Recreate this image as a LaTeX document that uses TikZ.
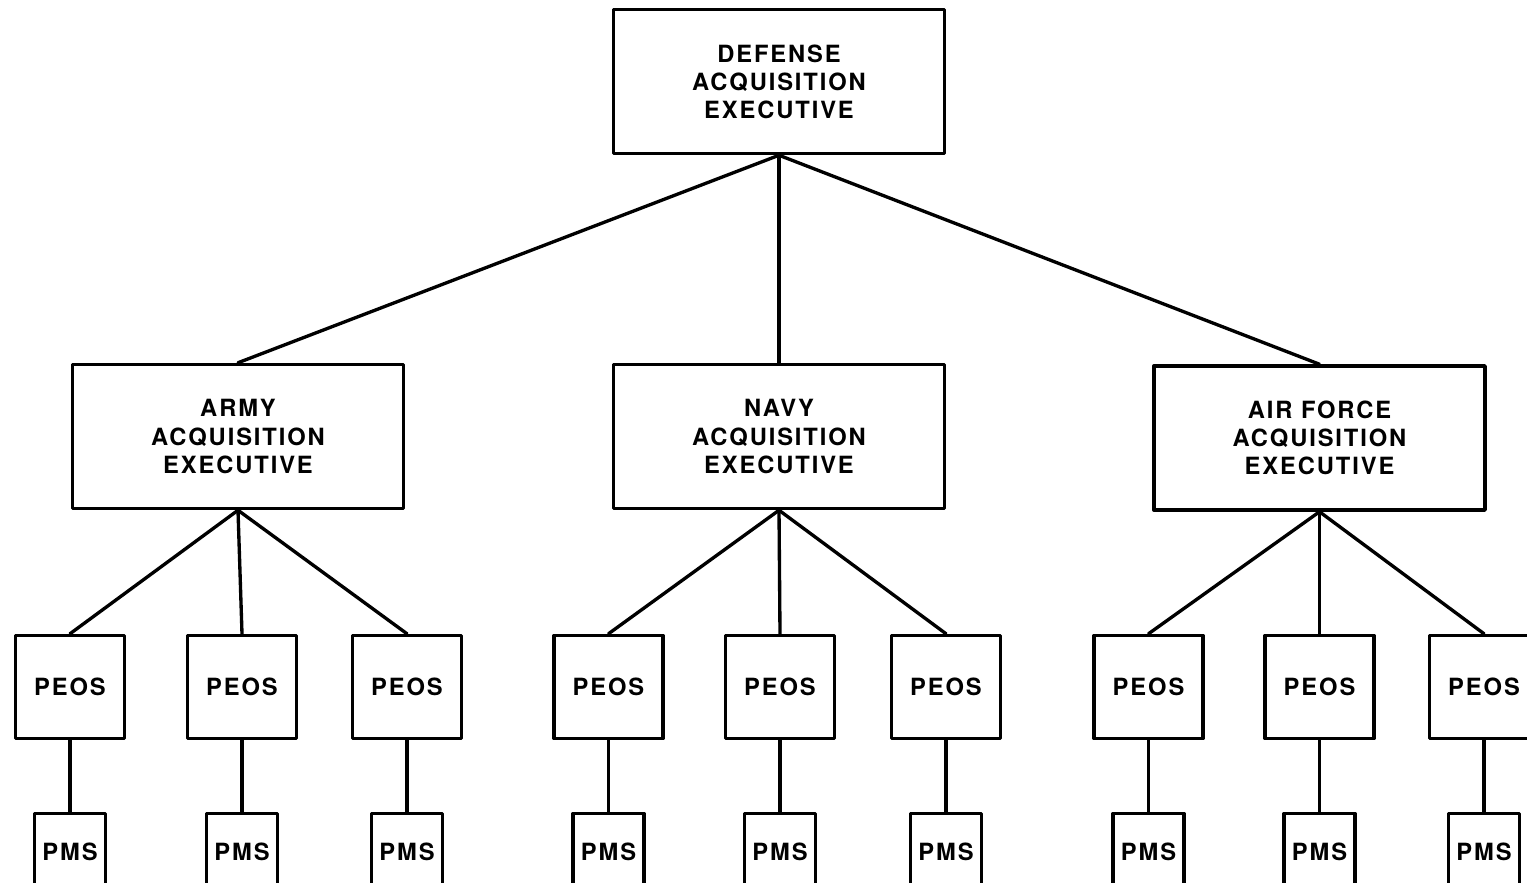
\documentclass[tikz,border=0pt]{standalone}
\usepackage{fontspec}
\newfontfamily\chartfont{TeX Gyre Heros}[LetterSpace=8]
\begin{document}
\begin{tikzpicture}[x=0.02cm, y=-0.02cm, line cap=round, line join=round,
    exec/.style={draw, line width=2pt, minimum width=6.62cm, minimum height=2.88cm,
        align=center, font=\chartfont\bfseries\fontsize{13.5}{16}\selectfont},
    peos/.style={draw, line width=2pt, minimum width=2.18cm, minimum height=2.06cm,
        font=\chartfont\bfseries\fontsize{13.5}{16}\selectfont},
    pms/.style={draw, line width=2pt, minimum width=1.42cm, minimum height=1.54cm,
        font=\chartfont\bfseries\fontsize{13.5}{16}\selectfont},
    link/.style={line width=1.9pt}]
    % 画布
    \useasboundingbox[fill=white] (0,0) rectangle (1527,882);

    % 顶层
    \node[exec] (dae) at (779,81.5) {DEFENSE\\ACQUISITION\\EXECUTIVE};

    % 三个军种
    \node[exec] (army) at (238,436.5) {ARMY\\ACQUISITION\\EXECUTIVE};
    \node[exec] (navy) at (779,436.5) {NAVY\\ACQUISITION\\EXECUTIVE};
    \node[exec] (af) at (1319.5,438) {AIR FORCE\\ACQUISITION\\EXECUTIVE};

    \draw[link] (dae.south) -- (army.north);
    \draw[link] (dae.south) -- (navy.north);
    \draw[link] (dae.south) -- (af.north);

    % PEOS 与 PMS
    \foreach \name/\px/\py/\top in {a1/70/852/army, a2/242/852/army, a3/407/852/army,
        n1/608.5/852/navy, n2/780/852/navy, n3/946/852/navy,
        f1/1148.5/852/af, f2/1319.5/852/af, f3/1484/852/af}
    {
        \node[peos] (peos-\name) at (\px,687) {PEOS};
        \node[pms] (pms-\name) at (\px,\py) {PMS};
        \draw[link] (\top.south) -- (peos-\name.north);
        \draw[link] (peos-\name.south) -- (pms-\name.north);
    }
\end{tikzpicture}
\end{document}
